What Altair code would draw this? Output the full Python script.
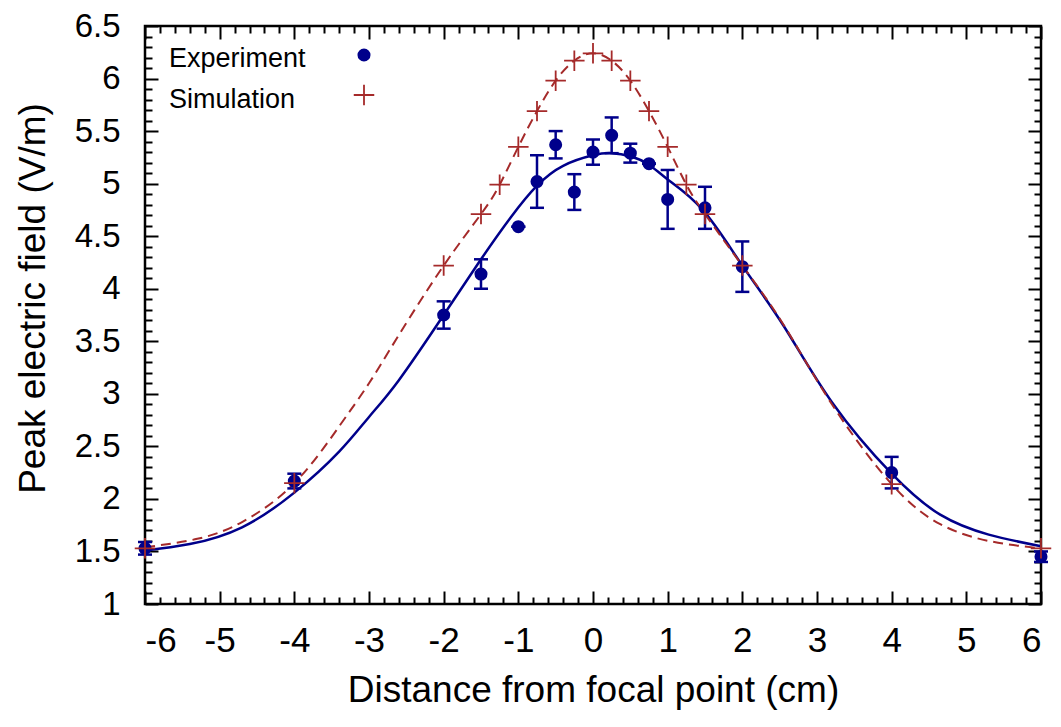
import altair as alt
import pandas as pd

# ---- data ----
exp_x = [-6, -4, -2, -1.5, -1, -0.75, -0.5, -0.25, 0, 0.25, 0.5, 0.75, 1, 1.5, 2, 4, 6]
exp_y = [1.53, 2.17, 3.75, 4.14, 4.59, 5.02, 5.37, 4.92, 5.30, 5.46, 5.29, 5.19, 4.85, 4.77, 4.21, 2.25, 1.45]
exp_err = [0.06, 0.07, 0.13, 0.14, 0.0, 0.25, 0.13, 0.17, 0.12, 0.17, 0.09, 0.0, 0.28, 0.20, 0.24, 0.15, 0.05]

sim_x = [-6, -4, -2, -1.5, -1.25, -1, -0.75, -0.5, -0.25, 0, 0.25, 0.5, 0.75, 1, 1.25, 1.5, 2, 4, 6]
sim_y = [1.53, 2.15, 4.22, 4.71, 4.99, 5.35, 5.69, 5.98, 6.17, 6.24, 6.17, 5.98, 5.69, 5.35, 4.99, 4.71, 4.22, 2.14, 1.53]

# dashed curve (simulation fit), read along its path
simfit_x = [-6, -5.3, -4.7, -4, -3.4, -3, -2.6, -2, -1.5, -1.25, -1, -0.75, -0.5, -0.25, 0,
            0.25, 0.5, 0.75, 1, 1.25, 1.5, 2, 2.55, 3.2, 4, 4.65, 5.3, 6]
simfit_y = [1.54, 1.62, 1.78, 2.15, 2.69, 3.10, 3.56, 4.22, 4.71, 4.99, 5.35, 5.69, 5.98, 6.17, 6.24,
            6.17, 5.98, 5.69, 5.35, 4.99, 4.71, 4.22, 3.66, 2.90, 2.14, 1.76, 1.60, 1.53]

# solid curve (experiment fit), read along its path
expfit_x = [-6, -5.4, -4.7, -4, -3.4, -3, -2.6, -2, -1.5, -1.1, -0.75, -0.4, 0, 0.25, 0.5,
            0.75, 1, 1.47, 2, 2.55, 3.2, 4, 4.65, 5.3, 6]
expfit_y = [1.51, 1.57, 1.73, 2.06, 2.45, 2.78, 3.13, 3.75, 4.28, 4.68, 4.98, 5.17, 5.27, 5.29, 5.26,
            5.18, 5.04, 4.75, 4.22, 3.65, 2.92, 2.24, 1.85, 1.66, 1.55]

legend_labels = ["Experiment", "Simulation"]

x_major = list(range(-6, 7))
x_minor = [round(-6 + 0.2 * i, 1) for i in range(61) if i % 5]
y_major = [round(1 + 0.5 * i, 1) for i in range(12)]
y_minor = [round(1 + 0.1 * i, 1) for i in range(56) if i % 5]

BLUE = "#00008b"
RED = "#a52a2a"
FONT = "Liberation Sans"

exp_df = pd.DataFrame({
    "x": exp_x, "y": exp_y,
    "lo": [y - e for y, e in zip(exp_y, exp_err)],
    "hi": [y + e for y, e in zip(exp_y, exp_err)],
})
caps_df = pd.DataFrame({"x": exp_x + exp_x,
                        "y": list(exp_df["lo"]) + list(exp_df["hi"])})
sim_df = pd.DataFrame({"x": sim_x, "y": sim_y})
simfit_df = pd.DataFrame({"x": simfit_x, "y": simfit_y})
expfit_df = pd.DataFrame({"x": expfit_x, "y": expfit_y})

xs = alt.Scale(domain=[-6, 6], nice=False, zero=False)
ys = alt.Scale(domain=[1, 6.5], nice=False, zero=False)

MAJ = 13
MIN = 7


def tick_axis(orient, values, length):
    return alt.Axis(orient=orient, values=values, offset=-length, tickSize=length,
                    tickWidth=2, tickColor="black", labels=False, domain=False,
                    grid=False)


# solid fit line + labelled axes (bottom/left, major ticks)
fit_line = alt.Chart(expfit_df).mark_line(
    color=BLUE, strokeWidth=2.5, interpolate="natural"
).encode(
    x=alt.X("x:Q", scale=xs, title="Distance from focal point (cm)",
            axis=alt.Axis(orient="bottom", values=x_major, offset=-MAJ, tickSize=MAJ,
                          tickWidth=2, tickColor="black", domain=False, grid=False,
                          labelExpr="'' + datum.value", labelFontSize=35,
                          labelFont=FONT, labelColor="black", labelPadding=19,
                          titleFont=FONT, titleFontSize=37, titleFontWeight="normal",
                          titleColor="black", titlePadding=14, titleLimit=1000)),
    y=alt.Y("y:Q", scale=ys, title="Peak electric field (V/m)",
            axis=alt.Axis(orient="left", values=y_major, offset=-MAJ, tickSize=MAJ,
                          tickWidth=2, tickColor="black", domain=False, grid=False,
                          labelExpr="'' + datum.value", labelFontSize=33,
                          labelFont=FONT, labelColor="black", labelPadding=25,
                          titleFont=FONT, titleFontSize=37, titleFontWeight="normal",
                          titleColor="black", titlePadding=22, titleLimit=1000,
                          titleY=272)),
)

# dashed simulation curve + minor ticks bottom/left
sim_line = alt.Chart(simfit_df).mark_line(
    color=RED, strokeWidth=2, strokeDash=[10, 6], interpolate="natural"
).encode(
    x=alt.X("x:Q", scale=xs, title=None, axis=tick_axis("bottom", x_minor, MIN)),
    y=alt.Y("y:Q", scale=ys, title=None, axis=tick_axis("left", y_minor, MIN)),
)

# error bars + major ticks top/right
err_rule = alt.Chart(exp_df).mark_rule(color=BLUE, strokeWidth=2.5).encode(
    x=alt.X("x:Q", scale=xs, title=None, axis=tick_axis("top", x_major, MAJ)),
    y=alt.Y("lo:Q", scale=ys, title=None, axis=tick_axis("right", y_major, MAJ)),
    y2="hi:Q",
)

# error bar caps + minor ticks top/right
err_caps = alt.Chart(caps_df).mark_tick(
    color=BLUE, orient="horizontal", size=14, thickness=2.5, opacity=1
).encode(
    x=alt.X("x:Q", scale=xs, title=None, axis=tick_axis("top", x_minor, MIN)),
    y=alt.Y("y:Q", scale=ys, title=None, axis=tick_axis("right", y_minor, MIN)),
)

exp_pts = alt.Chart(exp_df).mark_point(
    shape="circle", filled=True, size=170, color=BLUE, opacity=1
).encode(
    x=alt.X("x:Q", scale=xs, axis=None),
    y=alt.Y("y:Q", scale=ys, axis=None),
)

PLUS = "M-1,0L1,0M0,-1L0,1"
sim_pts = alt.Chart(sim_df).mark_point(
    shape=PLUS, filled=False, size=420, color=RED, strokeWidth=1.8, opacity=1
).encode(
    x=alt.X("x:Q", scale=xs, axis=None),
    y=alt.Y("y:Q", scale=ys, axis=None),
)

# in-plot legend (label left, symbol right, gnuplot style)
leg1 = pd.DataFrame({"label": [legend_labels[0]]})
leg2 = pd.DataFrame({"label": [legend_labels[1]]})
leg_text1 = alt.Chart(leg1).mark_text(
    align="left", baseline="middle", font=FONT, fontSize=27, color="black"
).encode(x=alt.value(24), y=alt.value(33), text="label:N")
leg_text2 = alt.Chart(leg2).mark_text(
    align="left", baseline="middle", font=FONT, fontSize=27, color="black"
).encode(x=alt.value(24), y=alt.value(74), text="label:N")
leg_sym1 = alt.Chart(leg1).mark_point(
    shape="circle", filled=True, size=170, color=BLUE, opacity=1
).encode(x=alt.value(219), y=alt.value(29))
leg_sym2 = alt.Chart(leg2).mark_point(
    shape=PLUS, filled=False, size=420, color=RED, strokeWidth=1.8, opacity=1
).encode(x=alt.value(219), y=alt.value(69))

chart = alt.layer(
    fit_line, sim_line, err_rule, err_caps, exp_pts, sim_pts,
    leg_text1, leg_text2, leg_sym1, leg_sym2,
).resolve_scale(
    x="shared", y="shared"
).resolve_axis(
    x="independent", y="independent"
).properties(
    width=896, height=578,
    autosize=alt.AutoSizeParams(type="none"),
    padding={"left": 137, "top": 18, "right": 12, "bottom": 115},
    background="white",
).configure_view(
    stroke="black", strokeWidth=2.5
)

chart.save("out.html", embed_options={"renderer": "svg", "actions": False})
